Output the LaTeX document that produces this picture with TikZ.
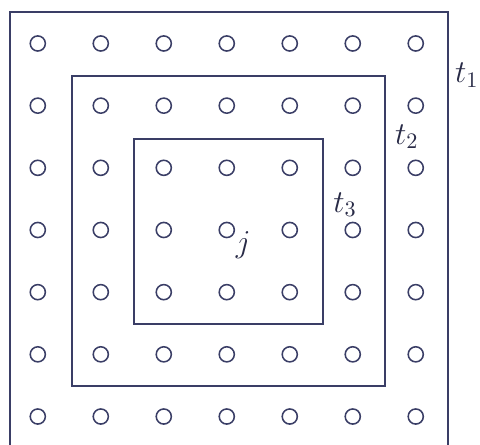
\documentclass[tikz,border=0pt]{standalone}
\usepackage{tikz}
\usetikzlibrary{positioning}
\definecolor{inkblue}{RGB}{58,62,102}
\tikzset{
site/.style={
	circle,
	draw=inkblue,
	line width=0.7pt,
	minimum size=0.24cm,
	inner sep=0pt
},
frame/.style={
	draw=inkblue,
	line width=0.9pt
},
tlabel/.style={
	text=inkblue!70!black,
	font=\Large,
	inner sep=0pt
}
}

\begin{document}
\begin{tikzpicture}
\clip (0,0) rectangle (7.62,7.06);
% ===== lattice sites (7 x 7) =====
\foreach \i in {0,...,6}
  \foreach \j in {0,...,6}
    \node (c-\i-\j) [site] at ({0.6+\i}, {6.37-0.987*\j}) {};
% ===== nested regions =====
\draw [frame] (0.16,-0.2) rectangle (7.11,6.87);
\draw [frame] (1.14,0.94) rectangle (6.11,5.86);
\draw [frame] (2.13,1.92) rectangle (5.13,4.86);
% ===== labels =====
\node (t1)   [tlabel] at (7.41,5.87) {$t_1$};
\node (t2)   [tlabel] at (6.46,4.89) {$t_2$};
\node (t3)   [tlabel] at (5.48,3.81) {$t_3$};
\node (lblj) [tlabel] at (3.86,3.17) {$j$};
\end{tikzpicture}
\end{document}
